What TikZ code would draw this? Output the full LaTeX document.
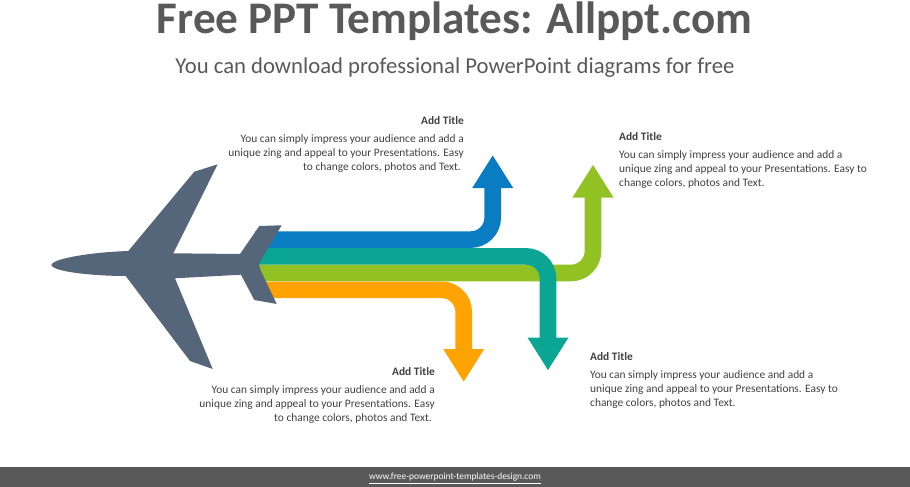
\documentclass[tikz,border=0pt]{standalone}
\usepackage{fontspec}
\setmainfont{Carlito}
\usepackage{xcolor}
\usetikzlibrary{arrows.meta}

\definecolor{planeGray}{HTML}{56667A}
\definecolor{bandBlue}{HTML}{0A7CC1}
\definecolor{bandTeal}{HTML}{0AA593}
\definecolor{bandGreen}{HTML}{92C123}
\definecolor{bandOrange}{HTML}{FFA300}
\definecolor{textGray}{HTML}{404040}
\definecolor{headGray}{HTML}{595959}

\tikzset{
  band/.style={line width=16.6pt, rounded corners=22pt, -{Triangle[length=33pt,width=38.5pt]}},
  blurb/.style={text=textGray, font=\fontsize{11.4}{14}\selectfont, inner sep=0pt},
}

\begin{document}
\begin{tikzpicture}[x=1pt, y=-1pt]
    \useasboundingbox (0,0) rectangle (910,487);

    % Heading
    \node[text=headGray, font=\fontsize{45.2}{46}\selectfont\bfseries] (title) at (454.5,21.5) {Free PPT Templates: Allppt.com};
    \node[text=headGray, font=\fontsize{22.7}{23}\selectfont] (subtitle) at (455,67.5) {You can download professional PowerPoint diagrams for free};

    % Bands
    \coordinate (blueStart) at (255,239.6);
    \coordinate (blueEnd) at (492.7,155);
    \coordinate (greenStart) at (255,273);
    \coordinate (greenEnd) at (593,164.5);
    \coordinate (tealStart) at (255,256.4);
    \coordinate (tealEnd) at (548,370.5);
    \coordinate (orangeStart) at (255,289.8);
    \coordinate (orangeEnd) at (463.7,382);
    \draw[band, bandBlue] (blueStart) -| (blueEnd);
    \draw[band, bandGreen] (greenStart) -| (greenEnd);
    \draw[band, bandTeal] (tealStart) -| (tealEnd);
    \draw[band, bandOrange] (orangeStart) -| (orangeEnd);

    % Plane
    \fill[planeGray] (51.3,265) .. controls (53,258) and (95,252) .. (128.3,251)
        -- (194.3,171.7) -- (217.7,164.3) -- (173.3,253.3) -- (240,254)
        -- (259.3,226) -- (281.7,225.3) -- (261,260) .. controls (259.5,262.5) and (259.3,264) .. (259.3,265)
        .. controls (259.3,267) and (260,269) .. (261,271)
        -- (276.7,304) -- (254.3,300) -- (241,274.7) -- (175,278.3)
        -- (212.7,369) -- (190,361) -- (125.7,276)
        .. controls (95,276) and (53,272) .. (51.3,265) -- cycle;

    % Labels
    \node[blurb, anchor=north east, align=right] (blueText) at (464,116) {\textbf{Add Title}\\[4pt]You can simply impress your audience and add a\\unique zing and appeal to your Presentations. Easy\\to change colors, photos and Text.\hspace*{3pt}};
    \node[blurb, anchor=north west, align=left] (greenText) at (619,132) {\textbf{Add Title}\\[4pt]You can simply impress your audience and add a\\unique zing and appeal to your Presentations. Easy to\\change colors, photos and Text.};
    \node[blurb, anchor=north east, align=right] (orangeText) at (435,367) {\textbf{Add Title}\\[4pt]You can simply impress your audience and add a\\unique zing and appeal to your Presentations. Easy\\to change colors, photos and Text.\hspace*{3pt}};
    \node[blurb, anchor=north west, align=left] (tealText) at (590,352) {\textbf{Add Title}\\[4pt]You can simply impress your audience and add a\\unique zing and appeal to your Presentations. Easy to\\change colors, photos and Text.};

    % Footer
    \fill[headGray] (0,467) rectangle (910,487);
    \node[text=white, font=\fontsize{9.4}{11}\selectfont] (footer) at (455,478.5) {\underline{www.free-powerpoint-templates-design.com}};
\end{tikzpicture}
\end{document}
